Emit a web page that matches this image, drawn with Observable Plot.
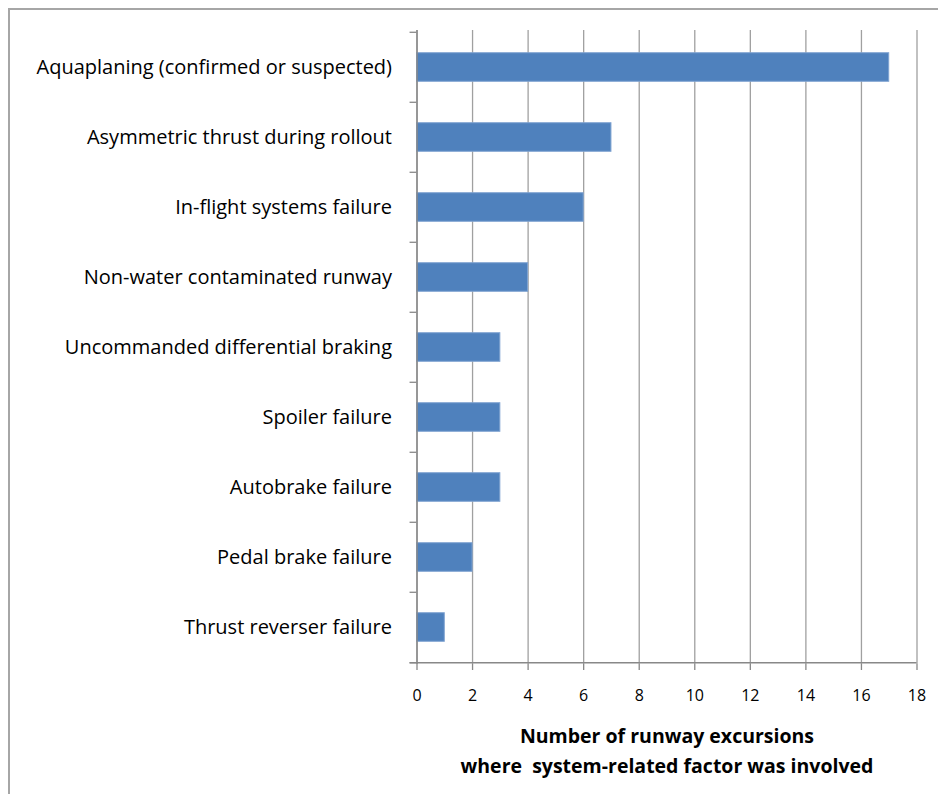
<!DOCTYPE html>
<html>
<head>
<meta charset="utf-8">
<script src="https://cdn.jsdelivr.net/npm/d3@7"></script>
<script src="https://cdn.jsdelivr.net/npm/@observablehq/plot@0.6"></script>
<style>
  html, body { margin: 0; padding: 0; background: #fff; overflow: hidden; }
  #wrap { position: relative; width: 938px; height: 794px; }
  #frame { position: absolute; left: 8px; top: 8px; width: 960px; height: 820px;
           border-left: 2px solid #a6a6a6; border-top: 2px solid #a6a6a6; pointer-events: none; }
  #chart { position: absolute; left: 0; top: 0; }
</style>
</head>
<body>
<div id="wrap"><div id="chart"></div><div id="frame"></div></div>
<script>
const categories = [
  "Aquaplaning (confirmed or suspected)",
  "Asymmetric thrust during rollout",
  "In-flight systems failure",
  "Non-water contaminated runway",
  "Uncommanded differential braking",
  "Spoiler failure",
  "Autobrake failure",
  "Pedal brake failure",
  "Thrust reverser failure"
];
const counts = [17, 7, 6, 4, 3, 3, 3, 2, 1];
const xTicks = [0, 2, 4, 6, 8, 10, 12, 14, 16, 18];
const axisTitle = ["Number of runway excursions", "where  system-related factor was involved"];

const data = categories.map((c, i) => ({category: c, count: counts[i]}));

const W = 938, H = 794, mL = 416.5, mR = 21.5, mT = 30, mB = 130;
const step = (H - mT - mB) / categories.length;
const inset = (step - 29) / 2;
const labelFont = "'Open Sans', Lato, sans-serif";

const chart = Plot.plot({
  width: W, height: H,
  marginLeft: mL, marginRight: mR, marginTop: mT, marginBottom: mB,
  style: {fontFamily: labelFont, color: "#000", background: "transparent"},
  x: {domain: [0, 18], ticks: xTicks},
  y: {domain: categories, padding: 0},
  marks: [
    Plot.gridX(xTicks, {stroke: "#a0a0a0", strokeOpacity: 1, strokeWidth: 1.3}),
    Plot.barX(data, {x: "count", y: "category", fill: "#4f81bd", stroke: "#7fa3d1", strokeWidth: 1, insetTop: inset, insetBottom: inset}),
    Plot.ruleY(categories, {y: d => d, x1: -0.25, x2: 0, dy: -step / 2, stroke: "#888", strokeWidth: 1.3}),
    Plot.ruleY([categories[categories.length - 1]], {y: d => d, x1: -0.25, x2: 0, dy: step / 2, stroke: "#888", strokeWidth: 1.3}),
    Plot.ruleX([0], {stroke: "#888", strokeWidth: 1.5}),
    Plot.ruleY([categories[categories.length - 1]], {y: d => d, x1: -0.25, x2: 18, dy: step / 2, stroke: "#888", strokeWidth: 1.5}),
    Plot.axisX({ticks: xTicks, tickSize: 6, tickPadding: 19, stroke: "#888", strokeWidth: 1.3, fontSize: 16, label: null, anchor: "bottom"}),
    Plot.axisY({tickSize: 0, tickPadding: 25, fontSize: 20, label: null, anchor: "left"}),
    Plot.text([axisTitle.join("\n")], {
      frameAnchor: "bottom", dx: 0, dy: 57, lineHeight: 1.55, fontSize: 19.5, fontWeight: "bold",
      fill: "#000", lineAnchor: "top", text: d => d
    })
  ]
});
document.getElementById("chart").appendChild(chart);
</script>
</body>
</html>
